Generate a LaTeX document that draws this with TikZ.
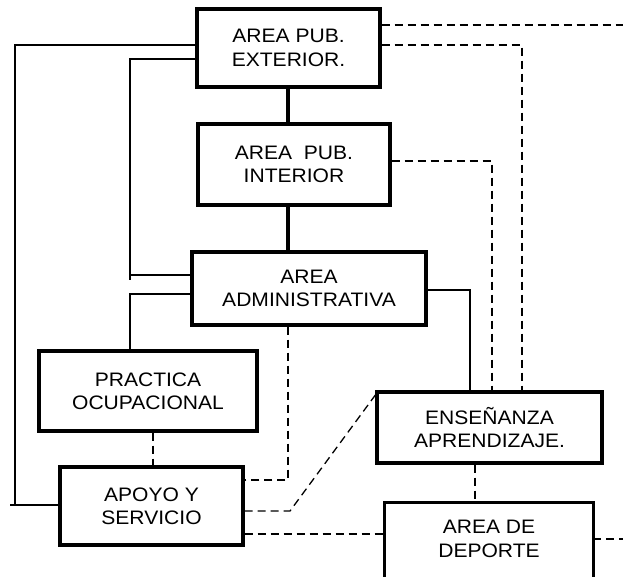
\documentclass[tikz,border=0pt]{standalone}
\usepackage{fontspec}
\setmainfont{Liberation Sans}[FakeStretch=1.08]
\begin{document}
\begin{tikzpicture}[x=1pt,y=-1pt,
  box/.style={draw, line width=3.3pt, inner sep=0pt, align=center,
    font=\fontsize{19.5}{23.3}\selectfont},
  plainbox/.style={inner sep=0pt, align=center,
    font=\fontsize{19.5}{23.3}\selectfont},
  solidlink/.style={line width=1.3pt},
  thicklink/.style={line width=3.3pt},
  dashlink/.style={line width=1.3pt, dash pattern=on 8pt off 5pt}]
\useasboundingbox (0,0) rectangle (623,577);
\fill[white] (0,0) rectangle (623,577);
% boxes
\node[box, minimum width=183pt, minimum height=78pt] (ext) at (288.5,48) {AREA PUB.\\EXTERIOR.};
\node[box, minimum width=192pt, minimum height=81pt] (int) at (294,164.5) {AREA~~PUB.\\INTERIOR};
\node[box, minimum width=234pt, minimum height=73pt] (adm) at (309,288.5) {AREA\\ADMINISTRATIVA};
\node[box, minimum width=218pt, minimum height=80pt] (pra) at (148,391) {PRACTICA\\OCUPACIONAL};
\node[box, minimum width=225pt, minimum height=71pt] (ens) at (489.5,427.5) {ENSEÑANZA\\APRENDIZAJE.};
\node[box, minimum width=183pt, minimum height=78pt] (apo) at (151.5,506) {APOYO Y\\SERVICIO};
\node[plainbox, minimum width=208pt, minimum height=72pt] (dep) at (489,539) {AREA DE\\DEPORTE};
\draw[line width=3.3pt] ([yshift=-20pt]dep.south west) -- (dep.north west) -- (dep.north east) -- ([yshift=-20pt]dep.south east);
% free ends
\coordinate (r1) at (623,25);
\coordinate (r2) at (623,539);
% solid links
\draw[solidlink] (ext.west |- 0,45) -- (15,45) -- (15,505) -- (apo.west |- 0,505);
\draw[solidlink] (15,505) -- (10,505);
\draw[solidlink] (ext.west |- 0,59) -- (130,59) -- (130,280);
\draw[solidlink] (130,275) -- (adm.west |- 0,275);
\draw[solidlink] (adm.west |- 0,294) -- (130,294) -- (pra.north -| 130,0);
\draw[solidlink] (adm.east |- 0,290) -- (470,290) -- (ens.north -| 470,0);
\draw[thicklink] (ext.south -| 288,0) -- (int.north -| 288,0);
\draw[thicklink] (int.south -| 288,0) -- (adm.north -| 288,0);
% dashed links
\draw[dashlink] (ext.east |- 0,25) -- (r1);
\draw[dashlink] (ext.east |- 0,45) -- (522,45) -- (ens.north -| 522,0);
\draw[dashlink] (int.east |- 0,161) -- (492,161) -- (ens.north -| 492,0);
\draw[dashlink] (adm.south -| 288,0) -- (288,480) -- (apo.east |- 0,480);
\draw[dashlink] (pra.south -| 153,0) -- (apo.north -| 153,0);
\draw[dashlink] (apo.east |- 0,511) -- (290,511) -- (ens.west |- 0,395);
\draw[dashlink] (apo.east |- 0,534) -- (dep.west |- 0,534);
\draw[dashlink] (ens.south -| 475,0) -- (dep.north -| 475,0);
\draw[dashlink] (dep.east |- 0,539) -- (r2);
\end{tikzpicture}
\end{document}
